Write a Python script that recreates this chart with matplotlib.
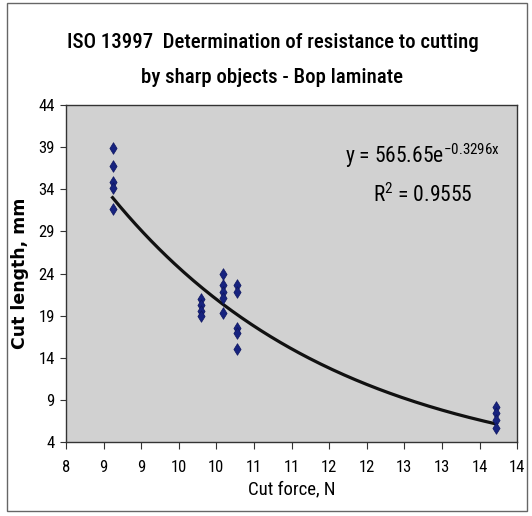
import numpy as np
import matplotlib
matplotlib.use("Agg")
import matplotlib.pyplot as plt
from matplotlib.patches import Rectangle

# measured points (cut force N, cut length mm)
force = [8.62, 8.62, 8.62, 8.62, 8.62,
         9.79, 9.79, 9.79, 9.79,
         10.09, 10.09, 10.09, 10.09, 10.09,
         10.28, 10.28, 10.28, 10.28, 10.28,
         13.72, 13.72, 13.72, 13.72]
length = [38.9, 36.8, 34.9, 34.1, 31.7,
          21.0, 20.3, 19.6, 18.9,
          24.0, 22.6, 21.8, 21.1, 19.3,
          22.6, 21.8, 17.5, 16.9, 15.1,
          8.2, 7.4, 6.6, 5.7]

# exponential trendline as printed on chart
fit_a = 565.65
fit_b = -0.3296
r2 = 0.9555

xticks = np.arange(8, 14.01, 0.5)
yticks = np.arange(4, 44.1, 5)

narrow = ["Liberation Sans Narrow", "Arial Narrow", "Roboto Condensed",
          "Liberation Sans", "DejaVu Sans"]
plt.rcParams["font.family"] = narrow
plt.rcParams["mathtext.fontset"] = "custom"
plt.rcParams["mathtext.rm"] = "Roboto Condensed"
plt.rcParams["mathtext.it"] = "Roboto Condensed"

fig = plt.figure(figsize=(5.32, 5.16), dpi=100)
fig.patch.set_facecolor("white")
fig.patches.append(Rectangle((7 / 532, 5 / 516), 520 / 532, 508 / 516,
                             transform=fig.transFigure, fill=False,
                             edgecolor="#666666", linewidth=1.0))

ax = fig.add_axes([0.124, 0.1434, 0.848, 0.653])
ax.set_facecolor("#d1d1d1")

# tall diamond like the excel marker
diamond = [(0, 1), (0.62, 0), (0, -1), (-0.62, 0), (0, 1)]
ax.scatter(force, length, marker=diamond, s=70, color="#17237f",
           edgecolors="#0e1660", linewidths=0.5, zorder=3)

xf = np.linspace(min(force), max(force), 200)
ax.plot(xf, fit_a * np.exp(fit_b * xf), color="#111111", lw=2.3, zorder=2)

ax.set_xlim(8, 14)
ax.set_ylim(4, 44)
ax.set_xticks(xticks)
ax.set_xticklabels([str(int(np.floor(v + 0.5))) for v in xticks], fontsize=12)
ax.set_yticks(yticks)
ax.set_yticklabels([str(int(v)) for v in yticks], fontsize=12)
ax.tick_params(axis="x", direction="out", length=5, width=0.8, color="#333333", pad=8)
ax.tick_params(axis="y", direction="out", length=4, width=0.8, color="#333333", pad=4)

for s in ax.spines.values():
    s.set_color("#333333")
    s.set_linewidth(1.0)

ax.set_xlabel("Cut force, N", fontsize=13.5, labelpad=4)
ax.set_ylabel("Cut length, mm", family="DejaVu Sans",
              fontsize=12.5, fontweight="bold", labelpad=7)

fig.text(0.512, 0.917, "ISO 13997  Determination of resistance to cutting",
         fontsize=15, fontweight="medium", ha="center", va="center")
fig.text(0.512, 0.849, "by sharp objects - Bop laminate",
         fontsize=15, fontweight="medium", ha="center", va="center")

ax.text(0.79, 0.85, r"y = 565.65e$^{-0.3296x}$", transform=ax.transAxes,
        fontsize=15.5, ha="center", va="center")
ax.text(0.79, 0.733, r"R$^2$ = %.4f" % r2, transform=ax.transAxes,
        fontsize=15.5, ha="center", va="center")

fig.savefig("out.png", dpi=100)
